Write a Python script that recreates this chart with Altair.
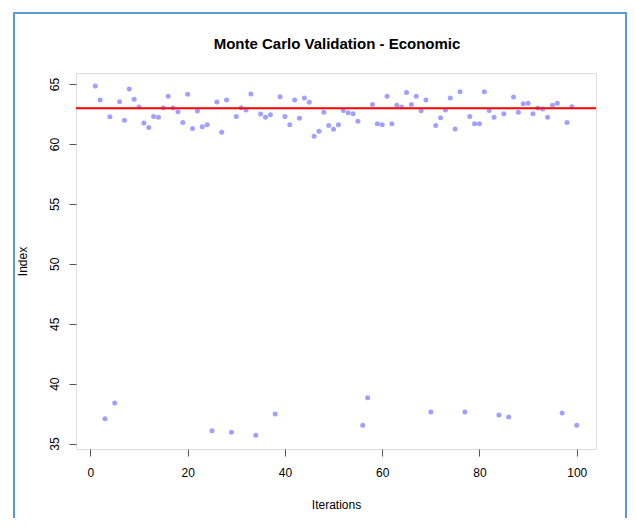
import altair as alt
import pandas as pd

# Iteration numbers and index values
iterations = list(range(1, 101))
index_values = [
    64.83, 63.67, 37.08, 62.28, 38.38, 63.53, 61.97, 64.58, 63.72, 63.08,
    61.75, 61.38, 62.30, 62.22, 63.03, 63.97, 63.00, 62.69, 61.78, 64.14,
    61.28, 62.75, 61.44, 61.61, 36.08, 63.50, 60.97, 63.67, 35.94, 62.30,
    63.03, 62.83, 64.17, 35.69, 62.50, 62.22, 62.44, 37.47, 63.94, 62.30,
    61.61, 63.67, 62.14, 63.83, 63.47, 60.64, 61.05, 62.64, 61.53, 61.22,
    61.61, 62.80, 62.61, 62.53, 61.89, 36.53, 38.83, 63.30, 61.69, 61.61,
    63.97, 61.69, 63.22, 63.08, 64.30, 63.30, 63.97, 62.78, 63.67, 37.63,
    61.55, 62.19, 62.83, 63.83, 61.25, 64.36, 37.63, 62.30, 61.69, 61.69,
    64.36, 62.80, 62.22, 37.38, 62.53, 37.22, 63.92, 62.64, 63.36, 63.39,
    62.53, 63.00, 62.92, 62.22, 63.22, 63.39, 37.55, 61.80, 63.11, 36.53,
]
reference_value = [62.97]
chart_title = ["Monte Carlo Validation - Economic"]

x_ticks = [0, 20, 40, 60, 80, 100]
y_ticks = [35, 40, 45, 50, 55, 60, 65]

df = pd.DataFrame({"Iterations": iterations, "Index": index_values})
ref_df = pd.DataFrame({"ref": reference_value})
title_df = pd.DataFrame({"title": chart_title})
frame_df = pd.DataFrame({"a": [0]})

FONT = "Liberation Sans"

x_scale = alt.Scale(domain=[-2.96, 103.96], nice=False, zero=False)
y_scale = alt.Scale(domain=[34.55, 65.92], nice=False, zero=False)

points = alt.Chart(df).mark_circle(size=25, color="#A0A0FF", opacity=1).encode(
    x=alt.X(
        "Iterations:Q",
        scale=x_scale,
        axis=alt.Axis(
            values=x_ticks, grid=False, domain=False, tickSize=7,
            tickColor="#555555", labelFontSize=12, labelFont=FONT,
            labelColor="#000000", labelPadding=11, title="Iterations",
            titleFont=FONT, titleFontSize=12, titleFontWeight="normal",
            titleColor="#000000", titlePadding=21,
        ),
    ),
    y=alt.Y(
        "Index:Q",
        scale=y_scale,
        axis=alt.Axis(
            values=y_ticks, grid=False, domain=False, tickSize=7,
            tickColor="#555555", labelFontSize=12, labelFont=FONT,
            labelColor="#000000", labelAngle=270, labelAlign="center",
            labelBaseline="bottom", labelPadding=8, title="Index",
            titleFont=FONT, titleFontSize=12, titleFontWeight="normal",
            titleColor="#000000", titlePadding=19,
        ),
    ),
)

rule = alt.Chart(ref_df).mark_rule(color="#FF0000", strokeWidth=2).encode(
    y=alt.Y("ref:Q", scale=y_scale)
)

title = alt.Chart(title_df).mark_text(
    font=FONT, fontSize=15, fontWeight="bold", color="#000000",
    align="center", baseline="middle",
).encode(
    text="title:N", x=alt.value(261), y=alt.value(-29)
)

frame = alt.Chart(frame_df).mark_rect(
    filled=False, stroke="#5B9BD5", strokeWidth=2
).encode(
    x=alt.value(-62), x2=alt.value(550), y=alt.value(-60), y2=alt.value(470)
)

chart = (
    alt.layer(points, rule, title, frame)
    .properties(
        width=520,
        height=376,
        padding={"left": 68, "top": 65, "right": 31, "bottom": 69},
        autosize=alt.AutoSizeParams(type="none"),
    )
    .configure_view(stroke="#666666", strokeWidth=1)
    .configure(background="white")
)

chart.save("out.html", embed_options={"renderer": "svg", "actions": False})
